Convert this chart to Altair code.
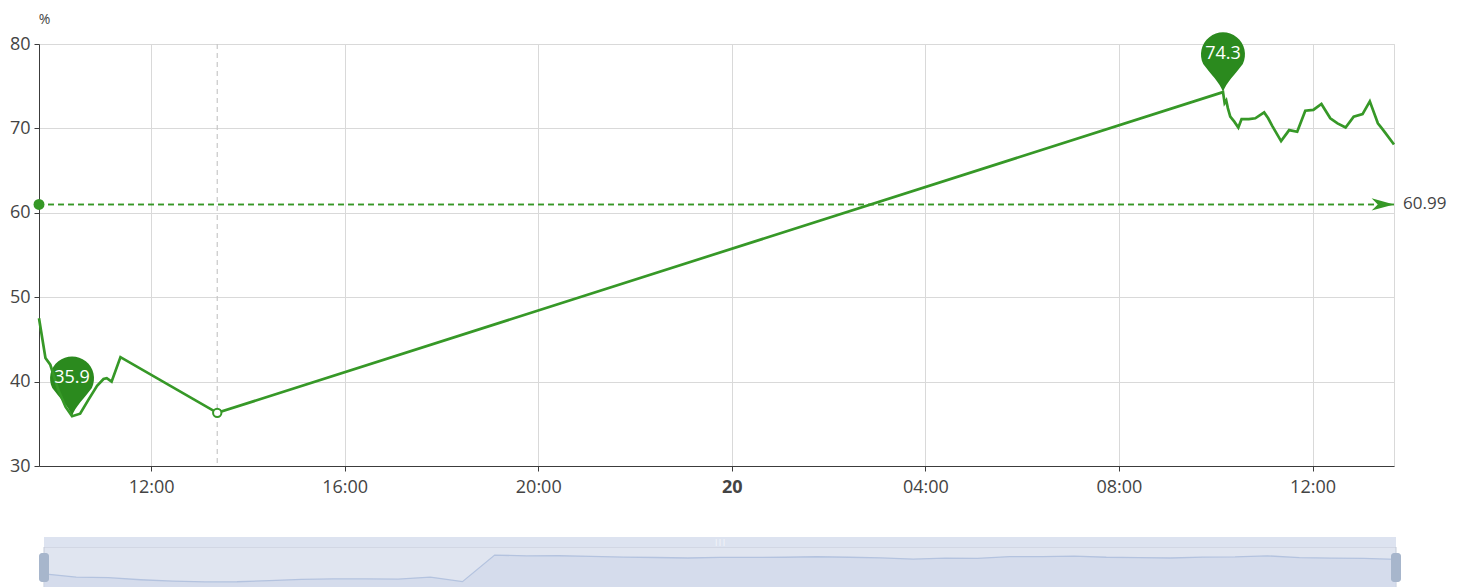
import altair as alt
import pandas as pd

# ---------------- data ----------------
TIMES = [
    "2023-05-19T09:41:00", "2023-05-19T09:49:00", "2023-05-19T09:55:00", "2023-05-19T10:05:00",
    "2023-05-19T10:14:00", "2023-05-19T10:22:00", "2023-05-19T10:32:00", "2023-05-19T10:42:00",
    "2023-05-19T10:53:00", "2023-05-19T11:01:00", "2023-05-19T11:05:00", "2023-05-19T11:11:00",
    "2023-05-19T11:22:00", "2023-05-19T13:22:00",
    "2023-05-20T10:09:00", "2023-05-20T10:11:00", "2023-05-20T10:13:00", "2023-05-20T10:15:00",
    "2023-05-20T10:18:00", "2023-05-20T10:23:00", "2023-05-20T10:28:00", "2023-05-20T10:32:00",
    "2023-05-20T10:41:00", "2023-05-20T10:49:00", "2023-05-20T11:00:00", "2023-05-20T11:05:00",
    "2023-05-20T11:10:00", "2023-05-20T11:21:00", "2023-05-20T11:31:00", "2023-05-20T11:41:00",
    "2023-05-20T11:51:00", "2023-05-20T12:01:00", "2023-05-20T12:11:00", "2023-05-20T12:22:00",
    "2023-05-20T12:31:00", "2023-05-20T12:41:00", "2023-05-20T12:51:00", "2023-05-20T13:02:00",
    "2023-05-20T13:11:00", "2023-05-20T13:21:00", "2023-05-20T13:26:00", "2023-05-20T13:30:00",
    "2023-05-20T13:41:00",
]
VALUES = [
    47.5, 42.8, 42.0, 39.0, 37.0, 35.9, 36.2, 37.8, 39.5, 40.3, 40.4, 40.0, 42.9, 36.3,
    74.3, 73.0, 73.3, 72.4, 71.4, 70.8, 70.1, 71.1, 71.1, 71.2, 71.9, 71.2, 70.3, 68.5,
    69.8, 69.6, 72.1, 72.2, 72.9, 71.2, 70.6, 70.1, 71.4, 71.7, 73.2, 70.6, 70.0, 69.5,
    68.1,
]
AVG_VALUE = 60.99
HOVER_TIME = "2023-05-19T13:22:00"
Y_TICKS = [30, 40, 50, 60, 70, 80]
X_TICKS = [
    "2023-05-19T12:00:00", "2023-05-19T16:00:00", "2023-05-19T20:00:00",
    "2023-05-20T00:00:00", "2023-05-20T04:00:00", "2023-05-20T08:00:00",
    "2023-05-20T12:00:00",
]

# ---------------- styles ----------------
LINE_COLOR = "#369827"
PIN_COLOR = "#2b8a1e"
AXIS_COLOR = "#3c3c3c"
LABEL_COLOR = "#444444"
GRID_COLOR = "#d9d9d9"
FONT = "Open Sans"
MAIN_W, MAIN_H = 1355, 422
PREV_X0, PREV_X1, PREV_H = 5, 1357, 43

PIN_PATH = ("M0,0 C-0.15,-0.45 -0.55,-0.8 -0.9,-1.28 "
            "A1,1 0 1,1 0.9,-1.28 C0.55,-0.8 0.15,-0.45 0,0 Z")
ARROW_PATH = "M0,0 L-2,-0.55 L-1.45,0 L-2,0.55 Z"

df = pd.DataFrame({"time": TIMES, "value": VALUES})
df["idx"] = list(range(len(df)))


def to_dt(s):
    t = pd.Timestamp(s)
    return alt.DateTime(year=t.year, month=t.month, date=t.day,
                        hours=t.hour, minutes=t.minute)


x_axis = alt.Axis(
    values=[to_dt(s) for s in X_TICKS],
    labelExpr="hours(datum.value) == 0 ? timeFormat(datum.value, '%d') : timeFormat(datum.value, '%H:%M')",
    labelFontWeight={"condition": {"test": "hours(datum.value) == 0", "value": "bold"},
                     "value": "normal"},
    grid=True, gridColor=GRID_COLOR,
    domainColor=AXIS_COLOR, tickColor=AXIS_COLOR, tickSize=5,
    labelPadding=7, labelFontSize=18, labelColor=LABEL_COLOR, labelFont=FONT,
    labelFlush=False,
)
y_axis = alt.Axis(
    values=Y_TICKS, grid=True, gridColor=GRID_COLOR,
    domainColor=AXIS_COLOR, tickColor=AXIS_COLOR, tickSize=5,
    labelPadding=4, labelFontSize=18, labelColor=LABEL_COLOR, labelFont=FONT,
    title="%", titleAngle=0, titleX=5, titleY=-25, titleAlign="center",
    titleBaseline="middle", titleFontWeight="normal", titleFontSize=14,
    titleColor=LABEL_COLOR, titleFont=FONT,
)

X = alt.X("time:T", title=None, scale=alt.Scale(nice=False, padding=0), axis=x_axis)
Y = alt.Y("value:Q", scale=alt.Scale(domain=[30, 80], zero=False, nice=False), axis=y_axis)

base = alt.Chart(df)

line = base.mark_line(color=LINE_COLOR, strokeWidth=2.7).encode(x=X, y=Y)

hover_df = df[df["time"] == HOVER_TIME]
hover_rule = alt.Chart(hover_df).mark_rule(
    color="#c8c8c8", strokeDash=[5, 4], strokeWidth=1.2
).encode(x="time:T")
hover_pt = alt.Chart(hover_df).mark_point(
    shape="circle", size=70, filled=True, fill="white", stroke=LINE_COLOR,
    strokeWidth=2, opacity=1
).encode(x="time:T", y="value:Q")

avg_df = pd.DataFrame({"time": [TIMES[0], TIMES[-1]],
                       "value": [AVG_VALUE, AVG_VALUE],
                       "kind": ["start", "end"]})
avg_rule = alt.Chart(avg_df).mark_rule(
    color=LINE_COLOR, strokeDash=[6, 4], strokeWidth=1.5
).encode(y="value:Q")
avg_start = alt.Chart(avg_df).transform_filter("datum.kind == 'start'").mark_point(
    shape="circle", size=120, filled=True, color=LINE_COLOR, opacity=1
).encode(x="time:T", y="value:Q")
avg_end = alt.Chart(avg_df).transform_filter("datum.kind == 'end'").mark_point(
    shape=ARROW_PATH, size=500, filled=True, color=LINE_COLOR, opacity=1
).encode(x="time:T", y="value:Q")
avg_label = alt.Chart(avg_df).transform_filter("datum.kind == 'end'").mark_text(
    align="left", baseline="middle", dx=9, fontSize=17, color=LABEL_COLOR, font=FONT
).encode(x="time:T", y="value:Q", text=alt.Text("value:Q", format=".2f"))

extremes = base.transform_joinaggregate(
    vmax="max(value)", vmin="min(value)"
).transform_filter("datum.value == datum.vmax || datum.value == datum.vmin")
pins = extremes.mark_point(
    shape=PIN_PATH, size=1936, filled=True, color=PIN_COLOR, opacity=1
).encode(x="time:T", y="value:Q")
pin_text = extremes.mark_text(
    dy=-38, fontSize=18, color="white", font=FONT, baseline="middle"
).encode(x="time:T", y="value:Q", text=alt.Text("value:Q", format=".1f"))

main = alt.layer(
    hover_rule, pins, line, avg_rule, avg_start, avg_end, avg_label, hover_pt, pin_text
).properties(
    width=MAIN_W, height=MAIN_H,
    view=alt.ViewBackground(stroke=GRID_COLOR, strokeWidth=1),
)

# ---------------- data-zoom preview ----------------
vmin, vmax = min(VALUES), max(VALUES)
rng = vmax - vmin
PX = alt.X("idx:Q", scale=alt.Scale(domain=[0, len(VALUES) - 1], range=[PREV_X0, PREV_X1],
                                     nice=False, zero=False), axis=None)
PY = alt.Y("value:Q", axis=None,
           scale=alt.Scale(domain=[vmin - 0.3 * rng, vmax + 0.3 * rng], nice=False, zero=False))

one = alt.Data(values=[{"k": 1}])
frame = alt.Chart(one).mark_rect(fill="#e0e5f0", stroke="#c3cad8", strokeWidth=1).encode(
    x=alt.value(PREV_X0), x2=alt.value(PREV_X1), y=alt.value(0), y2=alt.value(PREV_H + 5))
band = alt.Chart(one).mark_rect(color="#dde3f0").encode(
    x=alt.value(PREV_X0), x2=alt.value(PREV_X1), y=alt.value(-10), y2=alt.value(0))
grip = alt.Chart(one).mark_text(text="|||", color="white", fontSize=7).encode(
    x=alt.value((PREV_X0 + PREV_X1) / 2), y=alt.value(-5))
shadow = alt.Chart(df).mark_area(
    color="#d0d8e9", line={"color": "#b4c3df", "strokeWidth": 1.3}
).encode(x=PX, y=PY, y2=alt.value(PREV_H + 5))
handle_l = alt.Chart(one).mark_rect(color="#a7b6cc", cornerRadius=3).encode(
    x=alt.value(PREV_X0 - 5), x2=alt.value(PREV_X0 + 5), y=alt.value(6), y2=alt.value(35))
handle_r = alt.Chart(one).mark_rect(color="#a7b6cc", cornerRadius=3).encode(
    x=alt.value(PREV_X1 - 5), x2=alt.value(PREV_X1 + 5), y=alt.value(6), y2=alt.value(35))

preview = alt.layer(frame, band, grip, shadow, handle_l, handle_r).properties(
    width=PREV_X1, height=PREV_H,
    view=alt.ViewBackground(stroke=None, fill=None),
)

chart = alt.vconcat(main, preview, spacing=40).properties(
    padding={"left": 0, "top": 3, "right": 5, "bottom": 0},
    background="white",
).configure_text(font=FONT)

chart.save("out.html", embed_options={"renderer": "svg", "actions": False})
